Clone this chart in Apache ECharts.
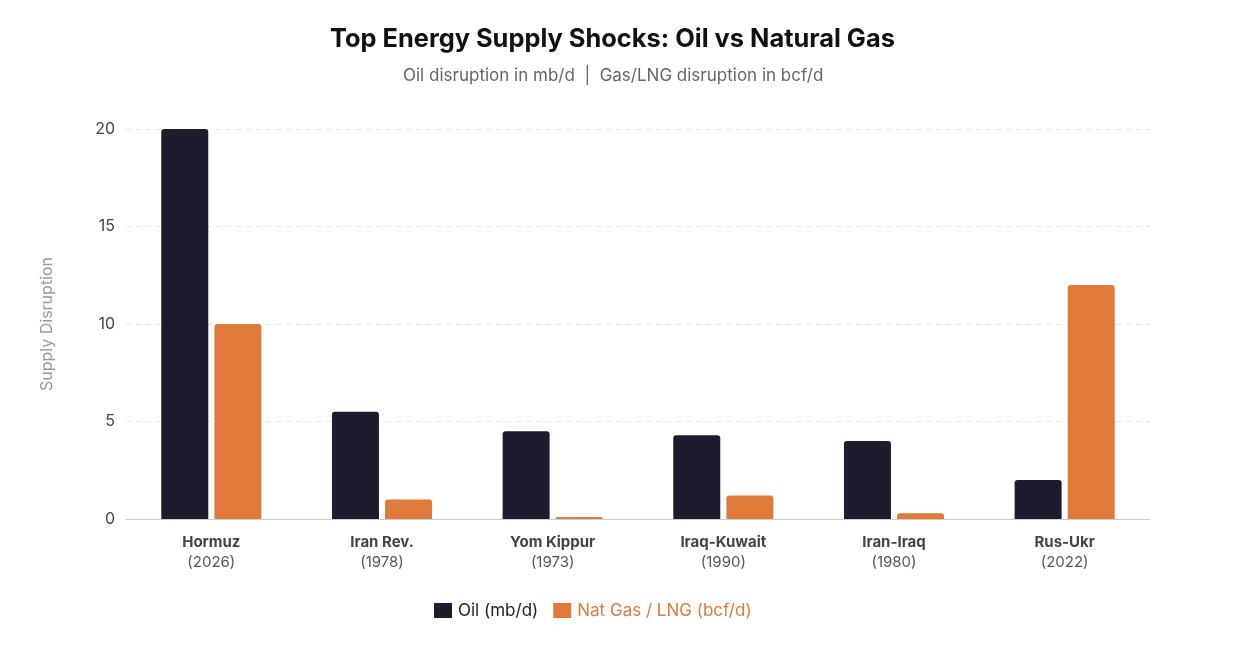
<!DOCTYPE html>
<html><head><meta charset="utf-8">
<script src="https://cdn.jsdelivr.net/npm/echarts@6/dist/echarts.min.js"></script>
<style>html,body{margin:0;padding:0;background:#fff}#c{width:1234px;height:650px}</style>
</head><body><div id="c"></div>
<script>
const events = ['Hormuz', 'Iran Rev.', 'Yom Kippur', 'Iraq-Kuwait', 'Iran-Iraq', 'Rus-Ukr'];
const years = ['2026', '1978', '1973', '1990', '1980', '2022'];
const oil = [20, 5.5, 4.5, 4.3, 4.0, 2.0];
const gas = [10, 1.0, 0.1, 1.2, 0.3, 12];
const yTicks = [0, 5, 10, 15, 20];

const cats = events.map((e, i) => e + '\n' + years[i]);
const font = 'Inter, "Noto Sans", sans-serif';
const chart = echarts.init(document.getElementById('c'));
chart.setOption({
  animation: false,
  textStyle: { fontFamily: font },
  title: [
    {
      text: 'Top Energy Supply Shocks: Oil vs Natural Gas',
      left: 325, top: 22,
      textStyle: { fontSize: 25.4, fontWeight: 'bold', color: '#111', fontFamily: font }
    },
    {
      text: 'Oil disruption in mb/d  |  Gas/LNG disruption in bcf/d',
      left: 398, top: 62,
      textStyle: { fontSize: 17, fontWeight: 'normal', color: '#666', fontFamily: font }
    }
  ],
  legend: {
    bottom: 26, left: 429, itemWidth: 18, itemHeight: 15, itemGap: 15,
    icon: 'rect',
    textStyle: { fontSize: 17, fontFamily: font, padding: [0, 0, 0, 1] },
    data: [
      { name: 'Oil (mb/d)', textStyle: { color: '#1c1c2e' } },
      { name: 'Nat Gas / LNG (bcf/d)', textStyle: { color: '#e07b3c' } }
    ]
  },
  grid: { left: 126, right: 84, top: 129, bottom: 131 },
  xAxis: {
    type: 'category', data: cats,
    axisLine: { lineStyle: { color: '#cccccc' } },
    axisTick: { show: false },
    axisLabel: {
      margin: 13,
      formatter: v => { const p = v.split('\n'); return '{b|' + p[0] + '}\n{y|(' + p[1] + ')}'; },
      rich: {
        b: { fontSize: 15, fontWeight: 'bold', color: '#444', lineHeight: 20, fontFamily: font },
        y: { fontSize: 15, color: '#555', lineHeight: 20, fontFamily: font }
      }
    }
  },
  yAxis: {
    type: 'value', min: 0, max: yTicks[yTicks.length - 1], interval: 5,
    name: 'Supply Disruption', nameLocation: 'middle', nameGap: 71,
    nameTextStyle: { fontSize: 16, color: '#999', fontFamily: font },
    axisLabel: { fontSize: 16, color: '#444', margin: 11 },
    axisLine: { show: false }, axisTick: { show: false },
    splitLine: { lineStyle: { type: [5, 5], color: '#e6e6e6' } }
  },
  series: [
    { name: 'Oil (mb/d)', type: 'bar', data: oil, barWidth: 47, barGap: '13%',
      itemStyle: { color: '#1c1c2e', borderRadius: [3, 3, 0, 0] } },
    { name: 'Nat Gas / LNG (bcf/d)', type: 'bar', data: gas, barWidth: 47,
      itemStyle: { color: '#e07b3c', borderRadius: [3, 3, 0, 0] } }
  ]
});
</script></body></html>
